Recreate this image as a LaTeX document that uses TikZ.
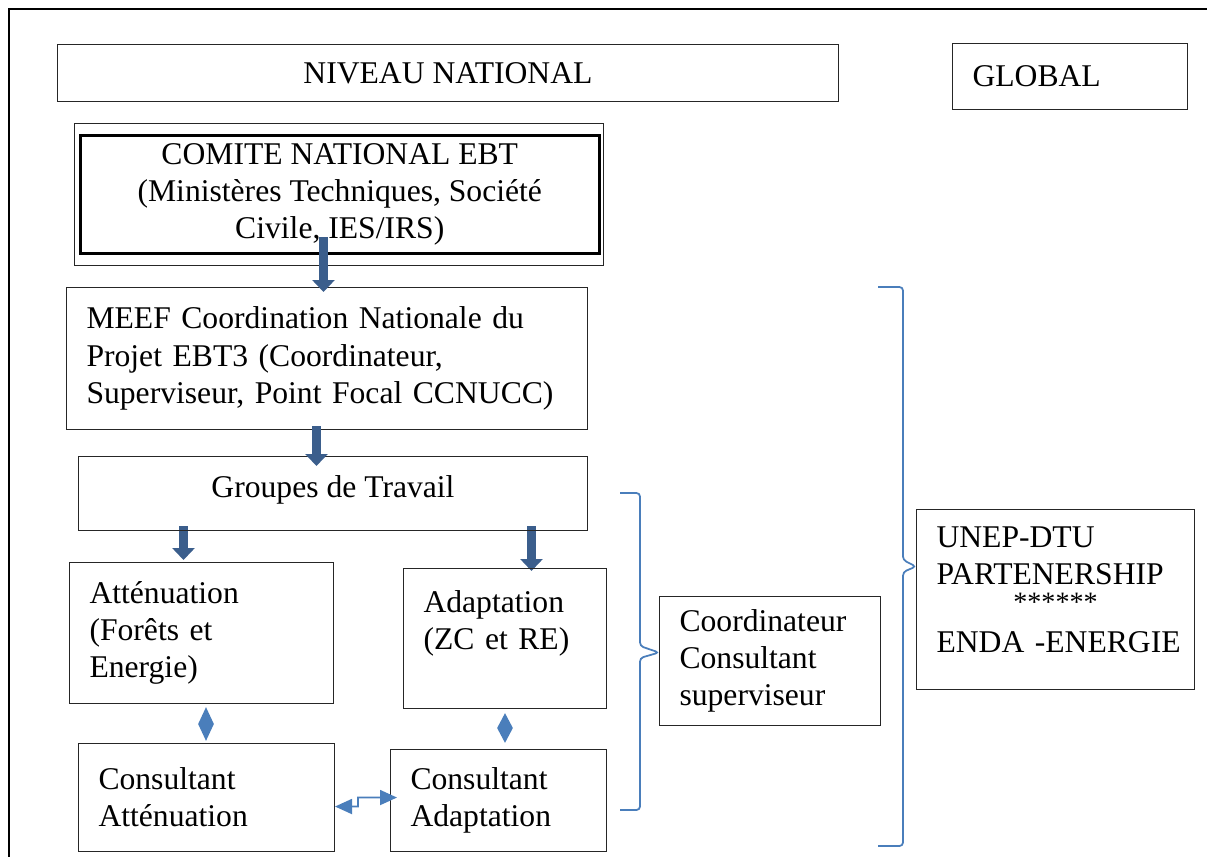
\documentclass[tikz,border=0pt]{standalone}
\usepackage{fontspec}
\setmainfont{Liberation Serif}
\usepackage{xcolor}
\usetikzlibrary{positioning, arrows.meta, shapes.geometric, backgrounds}
\definecolor{acier}{HTML}{3B5E8C}
\definecolor{bleu}{HTML}{4A7EBB}
\newcommand{\txt}{\fontsize{18}{21.2}\selectfont}

\begin{document}
\begin{tikzpicture}[x=0.02cm, y=-0.02cm,
    boite/.style={draw=black!85, line width=0.6pt, inner sep=0pt, font=\txt, anchor=north west},
    gauche/.style={boite, align=left, inner xsep=0.4cm},
    fleche/.style={acier, line width=0.18cm, -{Triangle[width=0.44cm,length=0.24cm]}},
    liaison/.style={bleu, line width=1pt,
      {Triangle[width=0.3cm,length=0.34cm]}-{Triangle[width=0.3cm,length=0.34cm]}},
    losange/.style={diamond, fill=bleu, draw=none, inner sep=0pt},
    accolade/.style={bleu, line width=1pt, rounded corners=2pt}]
  \useasboundingbox (0,0) rectangle (1207,856);
  \clip (0,0) rectangle (1207,856);

  % page frame (cut on the right and bottom)
  \draw[line width=1.6pt] (9,900) -- (9,9) -- (1260,9);

  % headers
  \node[boite, minimum width=15.62cm, minimum height=1.14cm] (national) at (57,44) {NIVEAU NATIONAL};
  \node[gauche, minimum width=4.70cm, minimum height=1.32cm, text width=3.90cm] (global) at (952,43) {GLOBAL};

  % national committee
  \node[boite, minimum width=10.58cm, minimum height=2.84cm] (cadre) at (74,123) {};
  \node[boite, draw=black, line width=1.5pt, align=center, minimum width=10.38cm,
        minimum height=2.36cm] (comite) at (79,134)
    {COMITE NATIONAL EBT\\(Ministères Techniques, Société\\Civile, IES/IRS)};

  % coordination and working groups
  \node[gauche, minimum width=10.42cm, minimum height=2.84cm, text width=9.62cm] (meef) at (66,287)
    {MEEF Coordination Nationale du\\Projet EBT3 (Coordinateur,\\Superviseur, Point Focal CCNUCC)};
  \node[boite, minimum width=10.18cm, minimum height=1.48cm, text depth=0.3cm] (groupes) at (78,456) {Groupes de Travail};

  \node[gauche, minimum width=5.28cm, minimum height=2.82cm, text width=4.48cm] (att) at (69,562)
    {Atténuation\\(Forêts et\\Energie)};
  \node[gauche, minimum width=4.06cm, minimum height=2.80cm, text width=3.26cm] (adapt) at (403,568)
    {Adaptation\\(ZC et RE)\\\mbox{}};

  \node[gauche, minimum width=5.12cm, minimum height=2.16cm, text width=4.32cm] (consatt) at (78,743)
    {Consultant\\Atténuation};
  \node[gauche, minimum width=4.32cm, minimum height=2.04cm, text width=3.52cm] (consadapt) at (390,749)
    {Consultant\\Adaptation};

  % right side
  \node[gauche, minimum width=4.42cm, minimum height=2.58cm, text width=3.62cm] (coord) at (659,596)
    {Coordinateur\\Consultant\\superviseur};
  \node[gauche, minimum width=5.56cm, minimum height=3.60cm, text width=4.76cm] (unep) at (916,509)
    {UNEP-DTU\\PARTENERSHIP\\[-6pt]\makebox[\hsize]{\fontsize{16}{16}\selectfont ******}\\[2pt]%
     \mbox{ENDA -ENERGIE}\\[-10pt]\mbox{}};

  % arrows
  \draw[fleche] ([xshift=-0.31cm,yshift=0.58cm]cadre.south) -- ([xshift=-0.31cm,yshift=-0.1cm]cadre.south |- meef.north);
  \draw[fleche] ([xshift=-0.21cm,yshift=0.08cm]meef.south) -- ([xshift=-0.21cm,yshift=-0.2cm]meef.south |- groupes.north);
  \begin{scope}[on background layer]
    \draw[fleche] ([xshift=-0.36cm,yshift=0.1cm]att.north |- groupes.south) -- ([xshift=-0.36cm,yshift=0.04cm]att.north);
    \draw[fleche] ([xshift=0.53cm,yshift=0.1cm]adapt.north |- groupes.south) -- ([xshift=0.53cm,yshift=-0.06cm]adapt.north);
  \end{scope}

  \node[losange, minimum width=0.32cm, minimum height=0.68cm] (los1) at (206,724) {};
  \node[losange, minimum width=0.32cm, minimum height=0.60cm] (los2) at (505,728) {};

  \draw[liaison] ([yshift=-0.18cm]consatt.east) -- ++(0.46cm,0) -- ++(0,0.18cm)
    -- ([xshift=0.14cm,yshift=0.06cm]consadapt.west);

  % braces
  \draw[accolade] (620,493) -- (640,493) -- (640,646) -- ([yshift=0.17cm]coord.west)
    -- (640,658) -- (640,810) -- (620,810);
  \draw[accolade] (878,287) -- (903,287) -- (903,560) -- ([yshift=0.66cm]unep.west)
    -- (903,572) -- (903,846) -- (878,846);
\end{tikzpicture}
\end{document}
